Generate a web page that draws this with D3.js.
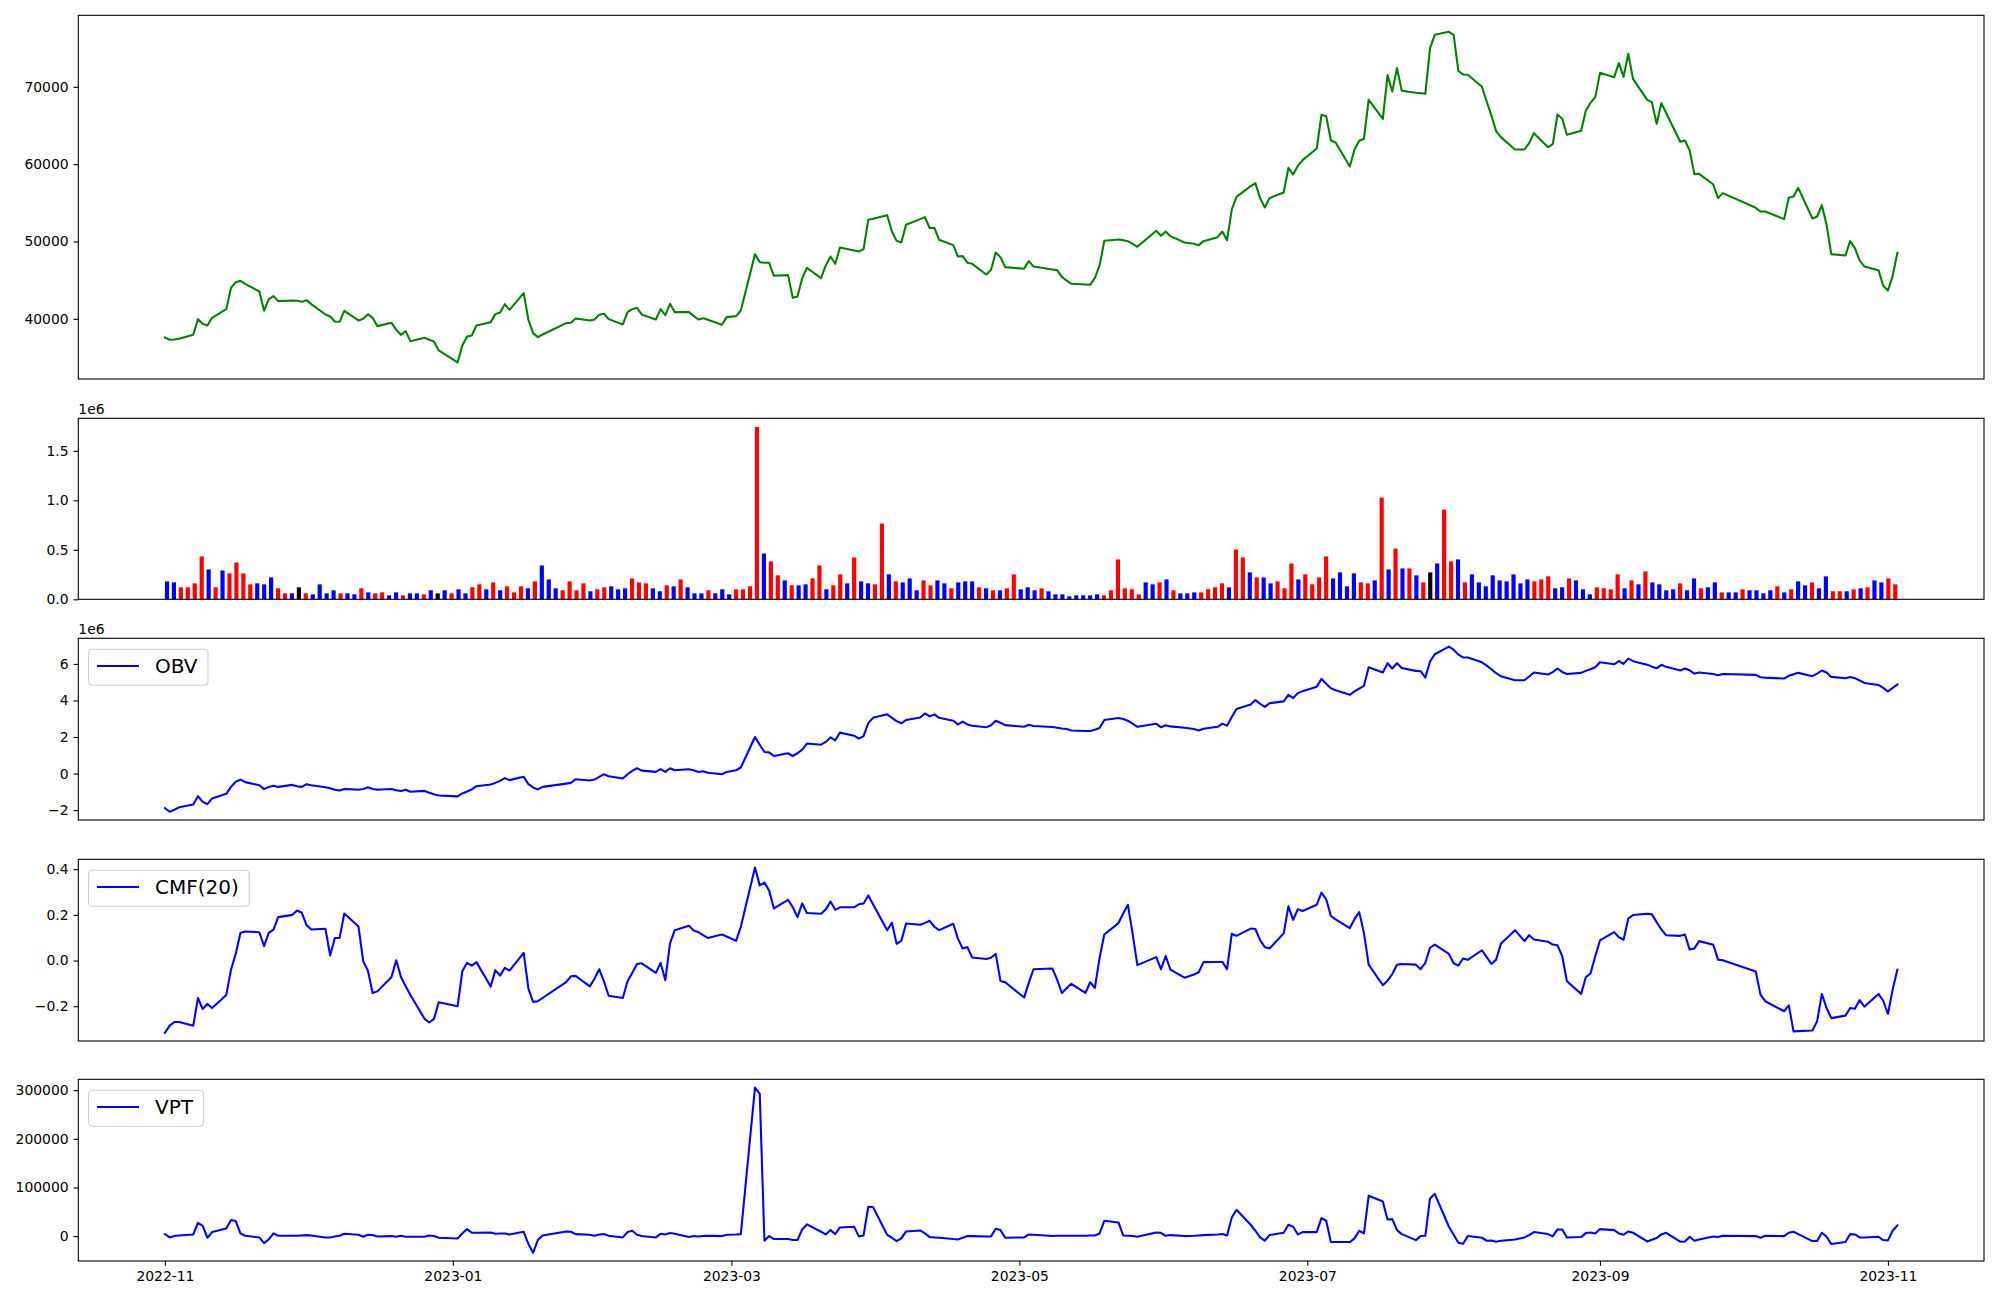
<!DOCTYPE html>
<html><head><meta charset="utf-8">
<script src="https://cdn.jsdelivr.net/npm/d3@7"></script>
<style>body{margin:0;background:#fff}svg{display:block}text{font-family:"DejaVu Sans",sans-serif}</style>
</head><body>
<svg id="chart" width="2000" height="1300"></svg>
<script>
// ---- data ----
const startDate = "2022-11-01", endDate = "2023-11-03";
const holidays = ["2022-12-30","2023-01-23","2023-01-24","2023-03-01","2023-05-01","2023-05-05","2023-05-29",
  "2023-06-06","2023-08-15","2023-09-28","2023-09-29","2023-10-02","2023-10-03","2023-10-09"];
const closePrice = [37586,37285,37330,37414,37931,39957,39354,39138,40129,41250,
44008,44741,44913,44525,43534,41034,42543,42931,42284,42370,
42327,42198,42414,41896,40560,40302,39655,39612,41034,39785,
40000,40603,40129,39052,39483,38578,37931,38405,37112,37543,
37285,37069,35906,34354,36552,37716,37845,39138,39569,40603,
40819,41896,41164,43319,39871,38147,37629,37974,39440,39483,
40043,39785,39914,40517,40647,39957,39267,40862,41250,41422,
40560,39914,41250,40474,41940,40862,40862,40388,39914,40086,
39871,39224,40216,40345,41078,48361,47327,47241,47241,45560,
45646,42715,42888,45258,46594,45258,46896,48060,47112,49223,
48836,48706,49008,52801,52930,53404,51292,50085,49870,52154,
52887,53146,51724,51766,50215,49525,48060,48103,47241,47112,
45732,46336,48577,47974,46681,46465,47456,46767,46379,46293,
45431,44957,44526,44439,44396,45301,46896,50085,50258,50172,
50042,49698,49310,51378,50732,51292,50689,49870,49698,49525,
50042,50560,51292,50172,54137,55775,57154,57542,55603,54395,
55603,56335,59524,58662,59783,60516,62024,66377,66205,63059,
62800,59697,61895,63015,63274,68317,65860,71507,69394,72411,
69480,69222,69179,69093,74997,76721,77109,76721,72066,71592,
71549,69998,68101,66291,64265,63490,61895,61895,62714,64007,
62197,62584,66420,65860,63791,64308,66894,67929,68662,71808,
71248,73058,71291,74265,71032,68317,68015,65214,67886,66636,
62886,63059,61766,58705,58749,57369,55603,56249,54352,53878,
53878,52887,55646,55818,56939,52973,53232,54697,52154,48361,
48189,50042,49137,47543,46767,46293,44267,43664,45560,48534];
const volume = [181000,171000,121000,121000,161000,433000,302000,121000,292000,262000,
372000,262000,151000,161000,151000,221000,111000,60000,60000,121000,
60000,50000,151000,60000,91000,60000,60000,50000,111000,70000,
60000,70000,40000,70000,40000,60000,60000,50000,91000,60000,
91000,60000,101000,60000,121000,151000,101000,171000,91000,131000,
70000,131000,111000,181000,342000,201000,111000,91000,181000,91000,
161000,81000,101000,121000,131000,101000,111000,211000,171000,161000,
111000,81000,141000,131000,201000,121000,60000,60000,91000,60000,
101000,50000,101000,101000,131000,1742000,463000,383000,242000,191000,
141000,141000,151000,211000,342000,101000,141000,252000,161000,423000,
181000,161000,151000,765000,252000,181000,171000,211000,91000,191000,
141000,191000,161000,111000,171000,181000,181000,121000,111000,91000,
91000,111000,252000,101000,121000,91000,111000,81000,50000,50000,
30000,40000,40000,40000,50000,40000,91000,403000,111000,101000,
50000,171000,151000,171000,201000,91000,60000,60000,70000,70000,
101000,121000,161000,121000,503000,423000,272000,221000,221000,161000,
181000,111000,362000,201000,252000,151000,221000,433000,211000,272000,
131000,262000,171000,161000,191000,1027000,302000,513000,312000,312000,
242000,171000,272000,362000,906000,383000,403000,171000,252000,171000,
131000,242000,191000,181000,252000,161000,201000,181000,201000,232000,
111000,121000,211000,191000,101000,50000,121000,111000,101000,252000,
111000,191000,151000,282000,171000,151000,91000,101000,161000,91000,
211000,111000,121000,171000,70000,70000,70000,101000,91000,91000,
60000,91000,131000,70000,101000,181000,141000,171000,111000,232000,
81000,81000,81000,101000,111000,121000,191000,171000,211000,151000];
// bar colour per day: r = up, b = down, k = unchanged
const barDirection = ("bbrrrrbrbr"+"rrrbbbrrbk"+"rbbbbrbbrb"+"rrbbrbbrbk"+"brbbrrbrbr"+
  "rrbrbbbrrr"+"rbrrbbbrrr"+"bbrbrbbbrb"+"bbrrrrbrrb"+"rbbrrbrrbr"+
  "bbrrbrbbbr"+"rbbrbbbrbr"+"brrbbbrbbb"+"bbbbbrrrrr"+"rbbrbrbbbr"+
  "rrrbrrbrbb"+"rrrbrrrrbb"+"bbrrbrbrbr"+"brkbrrbrbb"+"bbbbbbbrrr"+
  "bbrbbbrrrr"+"brbrbbbbrb"+"brbbrbbrbb"+"bbrbrbbrbb"+"rrbrbrbbrr").split("");
const obvMillions = [-1.89,-2.09,-1.98,-1.85,-1.69,-1.24,-1.55,-1.67,-1.36,-1.11,
-0.73,-0.45,-0.33,-0.47,-0.64,-0.85,-0.73,-0.67,-0.73,-0.62,
-0.69,-0.73,-0.58,-0.64,-0.75,-0.80,-0.89,-0.93,-0.84,-0.89,
-0.85,-0.75,-0.84,-0.89,-0.85,-0.91,-0.95,-0.89,-1.00,-0.95,
-1.05,-1.13,-1.20,-1.25,-1.09,-0.98,-0.87,-0.69,-0.60,-0.51,
-0.40,-0.25,-0.36,-0.18,-0.58,-0.76,-0.87,-0.73,-0.55,-0.51,
-0.31,-0.38,-0.33,-0.18,-0.04,-0.15,-0.27,-0.04,0.15,0.29,
0.16,0.09,0.24,0.09,0.29,0.18,0.24,0.18,0.09,0.13,
0.04,-0.04,0.09,0.18,0.33,2.00,1.58,1.18,1.16,0.96,
1.11,0.96,1.11,1.31,1.64,1.58,1.73,1.98,1.82,2.24,
2.07,1.91,2.05,2.76,3.05,3.24,3.05,2.87,2.75,2.93,
3.07,3.29,3.13,3.24,3.05,2.89,2.69,2.84,2.69,2.62,
2.53,2.64,2.89,2.78,2.65,2.56,2.67,2.60,2.55,2.51,
2.47,2.44,2.36,2.33,2.33,2.40,2.49,2.93,3.04,2.98,
2.89,2.73,2.56,2.73,2.53,2.64,2.58,2.51,2.44,2.36,
2.45,2.56,2.73,2.62,3.09,3.53,3.78,4.02,3.82,3.65,
3.85,3.95,4.31,4.13,4.40,4.51,4.75,5.18,4.91,4.67,
4.56,4.31,4.50,4.65,4.80,5.82,5.53,6.04,5.75,6.04,
5.78,5.62,5.60,5.25,6.13,6.53,6.95,6.78,6.51,6.36,
6.35,6.09,5.91,5.71,5.49,5.33,5.11,5.11,5.31,5.53,
5.42,5.55,5.75,5.56,5.45,5.51,5.62,5.71,5.82,6.09,
5.98,6.16,6.00,6.29,6.15,5.96,5.85,5.76,5.95,5.84,
5.64,5.75,5.65,5.47,5.53,5.45,5.38,5.45,5.40,5.27,
5.25,5.20,5.35,5.44,5.51,5.33,5.47,5.64,5.53,5.29,
5.22,5.29,5.22,5.09,4.96,4.85,4.69,4.49,4.69,4.87];
const cmf20 = [-0.316,-0.285,-0.269,-0.269,-0.285,-0.164,-0.212,-0.190,-0.208,-0.151,
-0.040,0.029,0.121,0.127,0.124,0.063,0.121,0.135,0.190,0.200,
0.219,0.209,0.155,0.136,0.139,0.022,0.099,0.099,0.206,0.149,
-0.003,-0.044,-0.142,-0.135,-0.072,0.001,-0.072,-0.113,-0.151,-0.255,
-0.271,-0.255,-0.183,-0.200,-0.047,-0.010,-0.022,-0.007,-0.114,-0.042,
-0.066,-0.032,-0.044,0.034,-0.123,-0.181,-0.178,-0.164,-0.094,-0.069,
-0.067,-0.113,-0.080,-0.038,-0.091,-0.154,-0.164,-0.091,-0.054,-0.015,
-0.012,-0.054,-0.010,-0.086,0.075,0.133,0.152,0.132,0.124,0.111,
0.099,0.114,0.105,0.086,0.148,0.407,0.329,0.341,0.306,0.228,
0.266,0.234,0.190,0.250,0.208,0.205,0.224,0.258,0.222,0.233,
0.233,0.246,0.250,0.285,0.246,0.133,0.165,0.073,0.086,0.162,
0.157,0.165,0.174,0.148,0.133,0.161,0.095,0.053,0.059,0.013,
0.007,0.012,0.029,-0.089,-0.095,-0.162,-0.098,-0.038,-0.035,-0.083,
-0.142,-0.121,-0.102,-0.142,-0.095,-0.120,0.012,0.114,0.164,0.206,
0.244,0.117,-0.020,0.015,-0.038,0.020,-0.040,-0.075,-0.061,-0.051,
-0.007,-0.006,-0.006,-0.038,0.117,0.108,0.140,0.138,0.089,0.059,
0.053,0.119,0.237,0.178,0.225,0.217,0.244,0.297,0.268,0.195,
0.180,0.142,0.181,0.212,0.120,-0.018,-0.108,-0.088,-0.059,-0.018,
-0.015,-0.018,-0.038,-0.010,0.056,0.070,0.029,-0.012,-0.022,0.009,
0.003,0.045,0.015,-0.015,0.004,0.073,0.133,0.085,0.111,0.092,
0.082,0.070,0.067,0.019,-0.091,-0.146,-0.073,-0.056,0.019,0.088,
0.124,0.102,0.091,0.184,0.199,0.205,0.202,0.168,0.136,0.111,
0.108,0.114,0.048,0.053,0.085,0.069,0.004,0.001,-0.048,-0.149,
-0.178,-0.222,-0.196,-0.310,-0.309,-0.306,-0.266,-0.146,-0.208,-0.252,
-0.241,-0.208,-0.211,-0.173,-0.202,-0.146,-0.176,-0.234,-0.127,-0.040];
const vpt = [4110,-2740,0,1370,3420,27400,21230,-3420,8220,15750,
32880,30820,5480,680,-2740,-14380,-6850,5480,680,680,
680,1370,2050,1370,-2740,-2740,-680,680,4790,2740,
-1370,2740,2050,-680,0,-1370,680,-1370,-1370,-1370,
1370,0,-3420,-4790,5480,14380,6850,6850,7530,4790,
5480,5480,3420,8900,-16440,-34250,-8220,1370,9590,8900,
4110,2740,680,3420,4110,680,-2740,8220,10960,2740,
0,-2740,4790,3420,6160,4790,-2050,0,-680,0,
680,0,2740,3420,4110,305460,293140,-9590,0,-6160,
-6160,-8220,-8220,13700,23970,8900,3420,12330,4110,17810,
19180,-680,1370,60270,59590,2740,-3420,-10270,-4790,9590,
11640,5480,-2050,-2740,-3420,-6160,-6850,-3420,0,0,
-680,-680,15070,12330,-3420,-2740,3420,2740,0,680,
680,680,680,680,1370,1370,5480,31500,28080,1370,
680,0,-1370,7530,6850,680,2050,0,680,1370,
2050,3420,4110,1370,38350,54110,23290,10960,-2740,-9590,
2050,6850,23290,19180,3420,8220,8220,36980,31500,-12330,
-12330,-12330,-4790,10960,5480,82870,71230,34250,34930,12330,
4110,-8220,0,680,77390,86980,19180,2740,-13700,-15750,
0,-3420,-9590,-8900,-11640,-9590,-6850,-2740,2050,8220,
4110,-680,13700,13700,-2740,-2050,6160,7530,5480,14380,
12330,5480,2740,9590,6850,-10960,-7530,-4110,3420,6850,
-11640,-10960,-1370,-9590,-6850,-680,-2050,680,0,-3420,
680,0,6850,8900,4110,-10270,-10270,6850,-1370,-16440,
-12330,4110,3420,-2740,-2740,-1370,-8220,-8900,10960,21920];
const xTickLabels = ["2022-11","2023-01","2023-03","2023-05","2023-07","2023-09","2023-11"];
const priceTicks = [40000,50000,60000,70000];
const volumeTicksE6 = [0.0,0.5,1.0,1.5];
const obvTicksE6 = [-2,0,2,4,6];
const cmfTicks = [-0.2,0.0,0.2,0.4];
const vptTicks = [0,100000,200000,300000];

// ---- trading calendar (weekdays minus exchange holidays) ----
function tradingDays(start, end, hol) {
  const out = [], hs = new Set(hol);
  for (let t = Date.parse(start + "T00:00:00Z"); t <= Date.parse(end + "T00:00:00Z"); t += 864e5) {
    const d = new Date(t), wd = d.getUTCDay();
    if (wd === 0 || wd === 6 || hs.has(d.toISOString().slice(0, 10))) continue;
    out.push(d);
  }
  return out;
}
const dates = tradingDays(startDate, endDate, holidays);

// ---- layout ----
const svg = d3.select("#chart");
svg.append("rect").attr("width", 2000).attr("height", 1300).attr("fill", "#fff");
const L = 78.3, R = 1984;
const panels = [{t:15.3,b:379},{t:418.3,b:599.3},{t:638.3,b:820},{t:859.3,b:1041},{t:1079.3,b:1261}];
const FS = 13.9, TICK = 4.86, LW = 2.08;
const pad = e => { const r = e[1] - e[0]; return [e[0] - 0.05 * r, e[1] + 0.05 * r]; };

const t0 = dates[0], t1 = dates[dates.length - 1], span = t1 - t0;
const x = d3.scaleUtc().domain([new Date(+t0 - 0.05 * span), new Date(+t1 + 0.05 * span)]).range([L, R]);
const n = volume.length, bw = 0.6;
const xi = d3.scaleLinear().domain(pad([-bw / 2, n - 1 + bw / 2])).range([L, R]);

const minus = s => String(s).replace(/-/g, "\u2212");

function yAxis(g, y, ticks, fmt) {
  const ax = g.append("g").attr("transform", `translate(${L},0)`)
    .call(d3.axisLeft(y).tickValues(ticks).tickSize(TICK).tickPadding(TICK).tickFormat(fmt));
  ax.select(".domain").remove();
  ax.selectAll("line").attr("stroke", "#000").attr("stroke-width", 1.1);
  ax.selectAll("text").attr("font-size", FS).attr("fill", "#000").attr("font-family", "DejaVu Sans");
}
function frame(p) {
  svg.append("rect").attr("x", L).attr("y", p.t).attr("width", R - L).attr("height", p.b - p.t)
    .attr("fill", "none").attr("stroke", "#000").attr("stroke-width", 1.1);
}
function linePanel(p, vals, color, ticks, fmt, scaleMul) {
  const y = d3.scaleLinear().domain(pad(d3.extent(vals))).range([p.b, p.t]);
  const g = svg.append("g");
  g.append("path").datum(vals)
    .attr("d", d3.line().x((v, i) => x(dates[i])).y(v => y(v)))
    .attr("fill", "none").attr("stroke", color).attr("stroke-width", LW)
    .attr("stroke-linejoin", "round").attr("stroke-linecap", "square");
  yAxis(g, y, ticks, fmt);
  return y;
}
function legend(p, label) {
  const g = svg.append("g");
  const bx = L + 10.3, by = p.t + 11;
  const box = g.append("rect").attr("x", bx).attr("y", by).attr("height", 36).attr("rx", 4)
    .attr("fill", "#fff").attr("fill-opacity", 0.8).attr("stroke", "#cccccc").attr("stroke-width", 1.1);
  g.append("line").attr("x1", L + 18.7).attr("x2", L + 60.7).attr("y1", by + 16.7).attr("y2", by + 16.7)
    .attr("stroke", "blue").attr("stroke-width", LW);
  const tx = g.append("text").attr("x", L + 76.7).attr("y", by + 23.4).attr("font-size", 20)
    .attr("font-family", "DejaVu Sans").attr("fill", "#000").text(label);
  const w = tx.node().getComputedTextLength();
  box.attr("width", (L + 76.7 + w + 10.5) - bx);
}
function offsetText(p) {
  svg.append("text").attr("x", L).attr("y", p.b === undefined ? 0 : p.t - 4.8)
    .attr("font-size", FS).attr("font-family", "DejaVu Sans").attr("fill", "#000").text("1e6");
}

// Panel 1: close price
linePanel(panels[0], closePrice, "green", priceTicks, d => d3.format("d")(d));
frame(panels[0]);

// Panel 2: volume bars
{
  const p = panels[1];
  const y = d3.scaleLinear().domain([0, 1.05 * d3.max(volume)]).range([p.b, p.t]);
  const colorOf = { r: "#ff0000", b: "#0000ff", k: "#000000" };
  const g = svg.append("g");
  const wpx = xi(bw) - xi(0);
  g.selectAll("rect").data(volume).join("rect")
    .attr("x", (v, i) => xi(i) - wpx / 2).attr("width", wpx)
    .attr("y", v => y(v)).attr("height", v => y(0) - y(v))
    .attr("fill", (v, i) => colorOf[barDirection[i]]);
  yAxis(g, y, volumeTicksE6.map(v => v * 1e6), v => (v / 1e6).toFixed(1));
  frame(p);
  offsetText(p);
}

// Panel 3: OBV
linePanel(panels[2], obvMillions, "blue", obvTicksE6, v => minus(v));
frame(panels[2]); offsetText(panels[2]); legend(panels[2], "OBV");

// Panel 4: CMF(20)
linePanel(panels[3], cmf20, "blue", cmfTicks, v => minus(v.toFixed(1)));
frame(panels[3]); legend(panels[3], "CMF(20)");

// Panel 5: VPT + date axis
linePanel(panels[4], vpt, "blue", vptTicks, v => minus(d3.format("d")(v)));
frame(panels[4]); legend(panels[4], "VPT");
{
  const p = panels[4];
  const tv = xTickLabels.map(s => new Date(Date.parse(s + "-01T00:00:00Z")));
  const ax = svg.append("g").attr("transform", `translate(0,${p.b})`)
    .call(d3.axisBottom(x).tickValues(tv).tickSize(TICK).tickPadding(TICK).tickFormat((d, i) => xTickLabels[i]));
  ax.select(".domain").remove();
  ax.selectAll("line").attr("stroke", "#000").attr("stroke-width", 1.1);
  ax.selectAll("text").attr("font-size", FS).attr("fill", "#000").attr("font-family", "DejaVu Sans");
}
</script>
</body></html>
